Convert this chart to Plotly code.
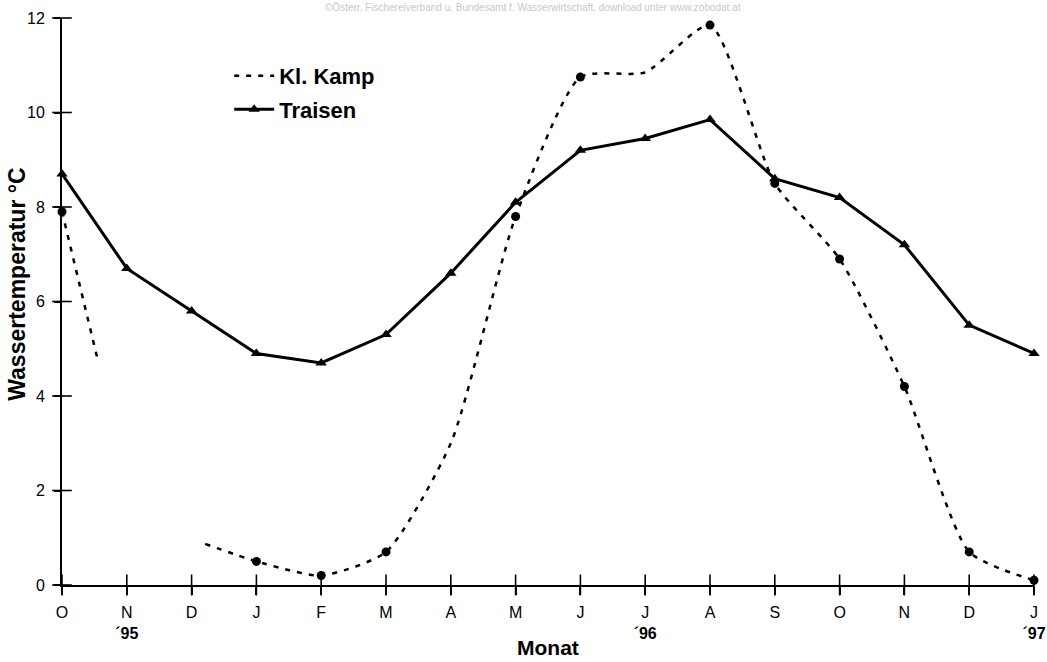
import plotly.graph_objects as go

# ---- data ----
months = ["O", "N", "D", "J", "F", "M", "A", "M", "J", "J", "A", "S", "O", "N", "D", "J"]
year_marks = {1: "´95", 9: "´96", 15: "´97"}

traisen = [8.7, 6.7, 5.8, 4.9, 4.7, 5.3, 6.6, 8.1, 9.2, 9.45, 9.85, 8.6, 8.2, 7.2, 5.5, 4.9]

kamp = [7.9, None, None, 0.5, 0.2, 0.7, 3.0, 7.8, 10.75, 10.85, 11.85, 8.5, 6.9, 4.2, 0.7, 0.1]
kamp_marked = [True, False, False, True, True, True, False, True, True, False,
               True, True, True, True, True, True]
# partial line pieces visible around the missing Nov/Dec '95 values
kamp_stub1_x = [0, 0.54]
kamp_stub1_y = [7.9, 4.83]
kamp_stub2_x = [2.21]
kamp_stub2_y = [0.87]

yticks = [0, 2, 4, 6, 8, 10, 12]

watermark = "©Österr. Fischereiverband u. Bundesamt f. Wasserwirtschaft, download unter www.zobodat.at"

# ---- build ----
idx = list(range(len(months)))
ticktext = [m + ("<br><b>" + year_marks[i] + "</b>" if i in year_marks else "") for i, m in enumerate(months)]

kx = kamp_stub1_x + [None] + kamp_stub2_x + idx[3:]
ky = kamp_stub1_y + [None] + kamp_stub2_y + kamp[3:]

fig = go.Figure()
# crossing tick marks (centered on the axis lines) at the tick positions
fig.add_trace(go.Scatter(
    x=idx, y=[0] * len(idx), mode="markers", showlegend=False, hoverinfo="skip",
    marker=dict(symbol="line-ns-open", size=15, color="black", line=dict(width=1.6, color="black")),
    cliponaxis=False,
))
fig.add_trace(go.Scatter(
    x=[0] * len(yticks), y=yticks, mode="markers", showlegend=False, hoverinfo="skip",
    marker=dict(symbol="line-ew-open", size=14, color="black", line=dict(width=1.6, color="black")),
    cliponaxis=False,
))
fig.add_trace(go.Scatter(
    x=kx, y=ky, mode="lines", name="Kl. Kamp", legendgroup="a",
    line=dict(color="black", width=2.5, dash="5px,7px", shape="spline", smoothing=0.6),
    connectgaps=False, cliponaxis=False,
))
fig.add_trace(go.Scatter(
    x=[i for i in idx if kamp_marked[i]],
    y=[kamp[i] for i in idx if kamp_marked[i]],
    mode="markers", showlegend=False, legendgroup="a",
    marker=dict(symbol="circle", size=9, color="black"),
    cliponaxis=False,
))
fig.add_trace(go.Scatter(
    x=idx, y=traisen, mode="lines+markers", name="Traisen", legendgroup="b",
    line=dict(color="black", width=3),
    marker=dict(symbol="triangle-up", size=10, color="black"),
    cliponaxis=False,
))

font_family = "Arial, Liberation Sans, sans-serif"

fig.update_layout(
    width=1047, height=662,
    paper_bgcolor="white", plot_bgcolor="white",
    margin=dict(l=62, r=13, t=18, b=77, autoexpand=False),
    font=dict(family=font_family, color="black", size=16),
    showlegend=True,
    legend=dict(x=0.172, y=0.935, xanchor="left", yanchor="top",
                bgcolor="rgba(0,0,0,0)", font=dict(size=22, family=font_family, weight="bold"),
                itemwidth=40, tracegroupgap=2),
    xaxis=dict(range=[0, 15], tickmode="array", tickvals=idx, ticktext=ticktext,
               showgrid=False, zeroline=False, showline=True, linecolor="black", linewidth=2,
               ticks="outside", ticklen=8, tickwidth=1.5, tickcolor="black",
               tickfont=dict(size=16), ticklabelstandoff=4),
    yaxis=dict(range=[0, 12], tickmode="array", tickvals=yticks,
               showgrid=False, zeroline=False, showline=True, linecolor="black", linewidth=2,
               ticks="outside", ticklen=6, tickwidth=1.5, tickcolor="black",
               tickfont=dict(size=16), ticklabelstandoff=6),
    annotations=[
        dict(text="<b>Wassertemperatur °C</b>", x=-0.046, y=0.53, xref="paper", yref="paper",
             textangle=-90, showarrow=False, font=dict(size=23), xanchor="center", yanchor="middle"),
        dict(text="<b>Monat</b>", x=0.5, y=-0.111, xref="paper", yref="paper",
             showarrow=False, font=dict(size=21), xanchor="center", yanchor="middle"),
        dict(text=watermark, x=0.485, y=1.0317, xref="paper", yref="paper",
             showarrow=False, font=dict(size=10, color="#c8c8c8"), xanchor="center", yanchor="top"),
    ],
)

fig.write_html("out.html", config={"displayModeBar": False},
               post_script="document.body.style.margin='0px';document.body.style.overflow='hidden';")
